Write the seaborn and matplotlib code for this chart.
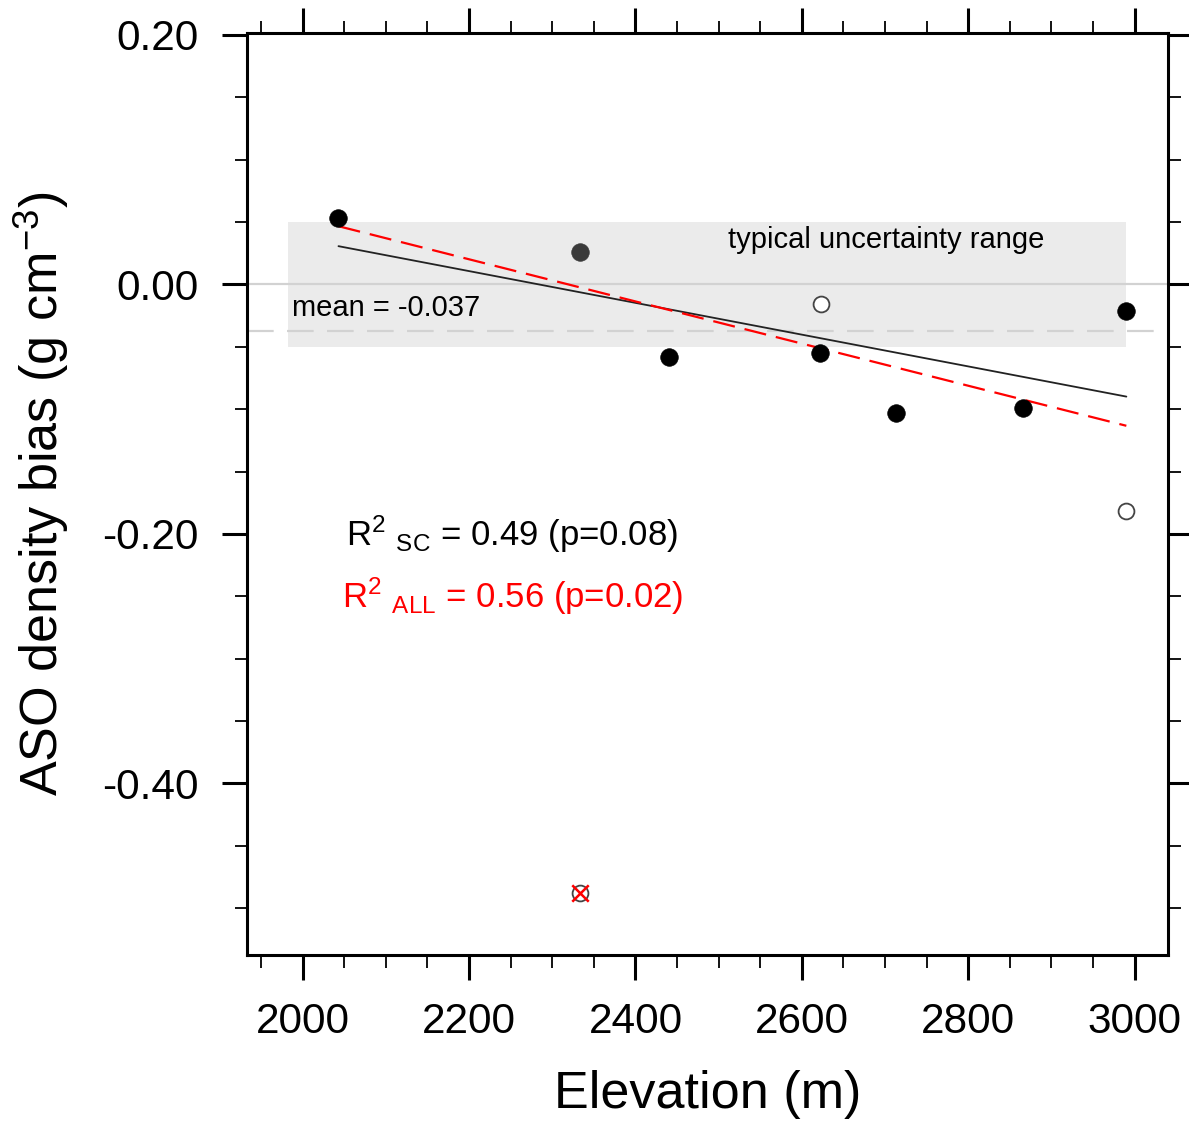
import matplotlib
matplotlib.use("Agg")
import matplotlib.pyplot as plt
import seaborn as sns
from matplotlib.ticker import MultipleLocator, StrMethodFormatter

# station elevations (m) and ASO density bias (g cm-3)
elev_solid = [2043, 2440, 2622, 2713, 2866, 2990]
bias_solid = [0.053, -0.058, -0.055, -0.103, -0.099, -0.021]
elev_gray = [2333]
bias_gray = [0.026]
elev_open = [2623, 2990, 2333]
bias_open = [-0.016, -0.182, -0.488]
elev_excluded = [2333]
bias_excluded = [-0.488]

# regression lines (end points)
fit_elev = [2043, 2990]
fit_sc = [0.0307, -0.0899]
fit_all = [0.0467, -0.1133]

mean_bias = -0.037
band_elev = [1982, 2990]
band_bias = [-0.05, 0.05]

sns.set_style("ticks")
plt.rcParams["font.family"] = ["Liberation Sans", "DejaVu Sans"]
plt.rcParams["mathtext.fontset"] = "custom"
plt.rcParams["mathtext.rm"] = "Liberation Sans"
plt.rcParams["mathtext.it"] = "Liberation Sans:italic"
plt.rcParams["axes.unicode_minus"] = False
plt.rcParams["text.color"] = "black"
plt.rcParams["axes.labelcolor"] = "black"
plt.rcParams["xtick.color"] = "black"
plt.rcParams["ytick.color"] = "black"

fig = plt.figure(figsize=(11.89, 11.22), dpi=100)
ax = fig.add_axes([0.2077, 0.1488, 0.7746, 0.8218])

# uncertainty band and reference lines
ax.fill_between(band_elev, band_bias[0], band_bias[1], color="#ebebeb", lw=0, zorder=0)
ax.axhline(0, color="#d2d2d2", lw=1.6, zorder=1)
ax.axhline(mean_bias, color="#d2d2d2", lw=1.6, ls=(0, (12, 6)), zorder=1)

sns.lineplot(x=fit_elev, y=fit_sc, color="#222222", lw=1.3, ax=ax, zorder=3)
sns.lineplot(x=fit_elev, y=fit_all, color="red", lw=1.6, ax=ax, zorder=3,
             dashes=False, linestyle=(0, (10, 4.5)))

sns.scatterplot(x=elev_solid, y=bias_solid, color="black", s=160, edgecolor="black",
                linewidth=0.5, ax=ax, zorder=4)
sns.scatterplot(x=elev_gray, y=bias_gray, color="#3a3a3a", s=160, edgecolor="#3a3a3a",
                linewidth=0.5, ax=ax, zorder=4)
sns.scatterplot(x=elev_open, y=bias_open, facecolor="white", s=130, edgecolor="#444444",
                linewidth=1.3, ax=ax, zorder=4)
sns.scatterplot(x=elev_excluded, y=bias_excluded, marker="x", color="red", s=140,
                linewidth=1.8, ax=ax, zorder=5)

ax.text(2511, 0.036, "typical uncertainty range", fontsize=21, va="center", ha="left")
ax.text(1987, -0.019, "mean = -0.037", fontsize=21, va="center", ha="left")
ax.text(2052, -0.2, r"R$^{2}\ {}_{\mathrm{SC}}$ = 0.49 (p=0.08)", fontsize=25,
        va="center", ha="left", color="black")
ax.text(2047, -0.25, r"R$^{2}\ {}_{\mathrm{ALL}}$ = 0.56 (p=0.02)", fontsize=25,
        va="center", ha="left", color="red")

ax.set_xlim(1933, 3040)
ax.set_ylim(-0.5376, 0.2016)
ax.xaxis.set_major_locator(MultipleLocator(200))
ax.xaxis.set_minor_locator(MultipleLocator(50))
ax.yaxis.set_major_locator(MultipleLocator(0.2))
ax.yaxis.set_minor_locator(MultipleLocator(0.05))
ax.yaxis.set_major_formatter(StrMethodFormatter("{x:.2f}"))

ax.tick_params(which="both", direction="out", top=True, right=True,
               labeltop=False, labelright=False, labelsize=30.5, color="black")
ax.tick_params(which="major", length=18, width=2.2)
ax.tick_params(axis="x", which="major", pad=16)
ax.tick_params(axis="y", which="major", pad=17)
ax.tick_params(which="minor", length=9, width=1.3)
for side in ["left", "right", "top", "bottom"]:
    ax.spines[side].set_linewidth(2.2)
    ax.spines[side].set_color("black")

ax.set_xlabel("Elevation (m)", fontsize=37.5, labelpad=20)
ax.set_ylabel(r"ASO density bias (g cm$^{-3}$)", fontsize=37.5, labelpad=22)

fig.savefig("out.png", dpi=100)
